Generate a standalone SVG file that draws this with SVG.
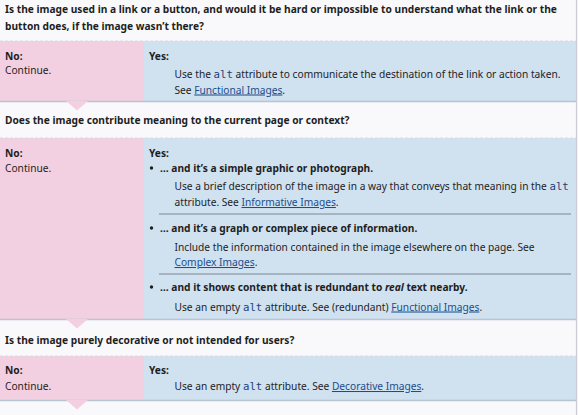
<svg xmlns="http://www.w3.org/2000/svg" width="578" height="415" viewBox="0 0 578 415">
<style>
text { font-family: "Noto Sans", "Open Sans", sans-serif; font-size: 10.2px; fill: #1e1e1e; }
.b { font-weight: bold; }
.code { font-family: "DejaVu Sans Mono", "Liberation Mono", monospace; fill: #1d3f7a; font-size: 10.7px; }
.link { fill: #1b4d8c; text-decoration: underline; }
.q { fill: #f9f9fb; }
.no { fill: #f2d0e1; }
.yes { fill: #d0e1f0; }
.ptr { fill: #f2d0e1; }
.dash { stroke: #d8dae0; stroke-width: 1; stroke-dasharray: 3 2; }
.rowline { stroke: #b7c4d1; stroke-width: 1.5; }
.sep { stroke: #7d8894; stroke-width: 1; }
</style>
<rect x="0" y="0" width="578" height="415" fill="#f9f9fb"/>

<g id="q1">
  <rect class="q" x="0" y="0" width="576" height="41"/>
  <text class="b" x="5" y="13">Is the image used in a link or a button, and would it be hard or impossible to understand what the link or the</text>
  <text class="b" x="5" y="29.5">button does, if the image wasn’t there?</text>
</g>
<g id="a1-no">
  <rect class="no" x="0" y="41" width="144" height="60"/>
  <text class="b" x="5" y="60">No:</text>
  <text x="5" y="74">Continue.</text>
</g>
<g id="a1-yes">
  <rect class="yes" x="144" y="41" width="432" height="60"/>
  <text class="b" x="149" y="60">Yes:</text>
  <text x="174.5" y="78">Use the <tspan class="code">alt</tspan> attribute to communicate the destination of the link or action taken.</text>
  <text x="174.5" y="93.5">See <tspan class="link">Functional Images</tspan>.</text>
</g>

<g id="q2">
  <rect class="q" x="0" y="102" width="576" height="36"/>
  <text class="b" x="5" y="124">Does the image contribute meaning to the current page or context?</text>
</g>
<g id="a2-no">
  <rect class="no" x="0" y="138" width="144" height="181"/>
  <text class="b" x="5" y="157">No:</text>
  <text x="5" y="171.5">Continue.</text>
</g>
<g id="a2-yes">
  <rect class="yes" x="144" y="138" width="432" height="181"/>
  <text class="b" x="149" y="157">Yes:</text>
  <circle cx="151.5" cy="168" r="1.7" fill="#1e1e1e"/>
  <text class="b" x="160" y="171.5">… and it’s a simple graphic or photograph.</text>
  <text x="174.5" y="190">Use a brief description of the image in a way that conveys that meaning in the <tspan class="code">alt</tspan></text>
  <text x="174.5" y="206">attribute. See <tspan class="link">Informative Images</tspan>.</text>
  <line class="sep" x1="159" y1="214" x2="571" y2="214"/>
  <circle cx="151.5" cy="228" r="1.7" fill="#1e1e1e"/>
  <text class="b" x="160" y="231.5">… and it’s a graph or complex piece of information.</text>
  <text x="174.5" y="250.5">Include the information contained in the image elsewhere on the page. See</text>
  <text x="174.5" y="266"><tspan class="link">Complex Images</tspan>.</text>
  <line class="sep" x1="159" y1="274" x2="571" y2="274"/>
  <circle cx="151.5" cy="287" r="1.7" fill="#1e1e1e"/>
  <text class="b" x="160" y="290.5">… and it shows content that is redundant to <tspan font-style="italic">real</tspan> text nearby.</text>
  <text x="174.5" y="310.5">Use an empty <tspan class="code">alt</tspan> attribute. See (redundant) <tspan class="link">Functional Images</tspan>.</text>
</g>

<g id="q3">
  <rect class="q" x="0" y="320" width="576" height="36"/>
  <text class="b" x="5" y="343.5">Is the image purely decorative or not intended for users?</text>
</g>
<g id="a3-no">
  <rect class="no" x="0" y="356" width="144" height="44"/>
  <text class="b" x="5" y="374">No:</text>
  <text x="5" y="390">Continue.</text>
</g>
<g id="a3-yes">
  <rect class="yes" x="144" y="356" width="432" height="44"/>
  <text class="b" x="149" y="374">Yes:</text>
  <text x="174.5" y="390">Use an empty <tspan class="code">alt</tspan> attribute. See <tspan class="link">Decorative Images</tspan>.</text>
</g>

<g id="connectors">
  <line class="dash" x1="0" y1="41" x2="576" y2="41"/>
  <line class="dash" x1="0" y1="138" x2="576" y2="138"/>
  <line class="dash" x1="0" y1="356" x2="576" y2="356"/>
  <line class="rowline" x1="0" y1="101.5" x2="576" y2="101.5"/>
  <line class="rowline" x1="0" y1="319.5" x2="576" y2="319.5"/>
  <line class="rowline" x1="0" y1="400.5" x2="576" y2="400.5"/>
  <polygon class="ptr" points="66,101 88,101 77,110.5"/>
  <polygon class="ptr" points="66,319 88,319 77,328.5"/>
  <polygon class="ptr" points="66,400 88,400 77,409.5"/>
  <line x1="576.5" y1="0" x2="576.5" y2="415" stroke="#c9cdd3" stroke-width="1.2"/>
</g>
</svg>
